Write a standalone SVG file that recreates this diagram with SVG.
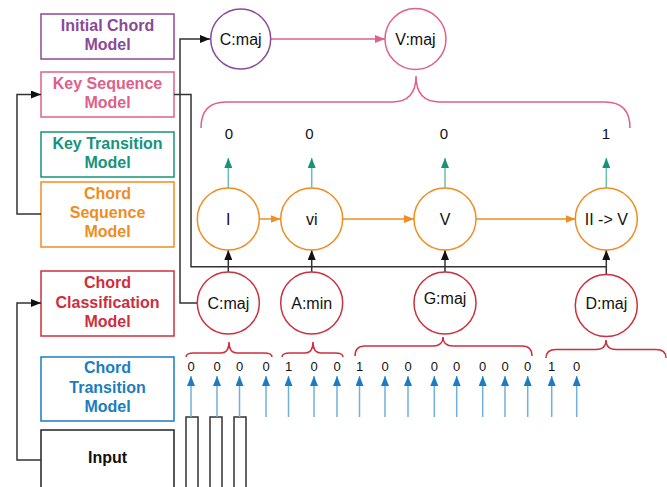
<svg xmlns="http://www.w3.org/2000/svg" width="667" height="487" viewBox="0 0 667 487">
<style>
.box{fill:#fff;stroke-width:1.5}
.lbl{font-family:"Liberation Sans",Arial,sans-serif;font-weight:bold;font-size:16px;text-anchor:middle}
.nd{fill:#fff;stroke-width:1.5}
.nt{font-family:"Liberation Sans",Arial,sans-serif;font-size:16px;text-anchor:middle;fill:#111}
.dg{font-family:"Liberation Sans",Arial,sans-serif;font-size:13px;text-anchor:middle;fill:#111}
.tn{font-family:"Liberation Sans",Arial,sans-serif;font-size:15px;text-anchor:middle;fill:#111}
.k{fill:none;stroke:#333;stroke-width:1.5}
.br{fill:none;stroke-width:1.5}
</style>
<defs>
<marker id="mk" viewBox="0 0 10 8" refX="10" refY="4" markerWidth="10" markerHeight="8" markerUnits="userSpaceOnUse" orient="auto"><path d="M0,0 L10,4 L0,8 z" fill="#111"/></marker>
<marker id="mp" viewBox="0 0 10 8" refX="10" refY="4" markerWidth="10" markerHeight="8" markerUnits="userSpaceOnUse" orient="auto"><path d="M0,0 L10,4 L0,8 z" fill="#E0608A"/></marker>
<marker id="mo" viewBox="0 0 10 8" refX="10" refY="4" markerWidth="10" markerHeight="8" markerUnits="userSpaceOnUse" orient="auto"><path d="M0,0 L10,4 L0,8 z" fill="#EF8D22"/></marker>
<marker id="mt" viewBox="0 0 10 8" refX="10" refY="4" markerWidth="10" markerHeight="8" markerUnits="userSpaceOnUse" orient="auto"><path d="M0,0 L10,4 L0,8 z" fill="#16937A"/></marker>
<marker id="mb" viewBox="0 0 10 8" refX="10" refY="4" markerWidth="10" markerHeight="8" markerUnits="userSpaceOnUse" orient="auto"><path d="M0,0 L10,4 L0,8 z" fill="#1A7DC1"/></marker>
</defs>

<!-- Left model boxes -->
<g id="initial-chord-model">
<rect class="box" x="41" y="14" width="133" height="45" stroke="#8A4A98"/>
<text class="lbl" fill="#8A4A98"><tspan x="107.5" y="31">Initial Chord</tspan><tspan x="107.5" y="50">Model</tspan></text>
</g>
<g id="key-sequence-model">
<rect class="box" x="41" y="72" width="133" height="45" stroke="#E0608A"/>
<text class="lbl" fill="#E0608A"><tspan x="107.5" y="88.5">Key Sequence</tspan><tspan x="107.5" y="107.5">Model</tspan></text>
</g>
<g id="key-transition-model">
<rect class="box" x="41" y="132" width="133" height="45" stroke="#16937A"/>
<text class="lbl" fill="#16937A"><tspan x="107.5" y="149">Key Transition</tspan><tspan x="107.5" y="168">Model</tspan></text>
</g>
<g id="chord-sequence-model">
<rect class="box" x="41" y="182" width="133" height="65" stroke="#EF8D22"/>
<text class="lbl" fill="#EF8D22"><tspan x="107.5" y="199">Chord</tspan><tspan x="107.5" y="218">Sequence</tspan><tspan x="107.5" y="237">Model</tspan></text>
</g>
<g id="chord-classification-model">
<rect class="box" x="41" y="271" width="133" height="65" stroke="#CC2F3E"/>
<text class="lbl" fill="#CC2F3E"><tspan x="107.5" y="288">Chord</tspan><tspan x="107.5" y="307.5">Classification</tspan><tspan x="107.5" y="326.5">Model</tspan></text>
</g>
<g id="chord-transition-model">
<rect class="box" x="41" y="357" width="133" height="64" stroke="#1A7DC1"/>
<text class="lbl" fill="#1A7DC1"><tspan x="107.5" y="373">Chord</tspan><tspan x="107.5" y="392.5">Transition</tspan><tspan x="107.5" y="411.5">Model</tspan></text>
</g>
<g id="input">
<rect class="box" x="41" y="430" width="133" height="70" stroke="#222"/>
<text class="lbl" fill="#111" x="107.5" y="463">Input</text>
</g>

<!-- Input bars -->
<g id="input-bars">
<rect x="186" y="417" width="12" height="80" fill="#fff" stroke="#333" stroke-width="1.5"/>
<rect x="210" y="417" width="12" height="80" fill="#fff" stroke="#333" stroke-width="1.5"/>
<rect x="234" y="417" width="12" height="80" fill="#fff" stroke="#333" stroke-width="1.5"/>
</g>

<!-- Connectors -->
<g id="connectors">
<path class="k" d="M41,214 H17 V94.5 H41" marker-end="url(#mk)"/>
<path class="k" d="M41,460 H17 V303 H41" marker-end="url(#mk)"/>
<path class="k" d="M174,94.5 H191 V266.7 H606"/>
<path class="k" d="M197,303 H180 V39 H210" marker-end="url(#mk)"/>
<path d="M271,39 H385" stroke="#E0608A" stroke-width="1.5" fill="none" marker-end="url(#mp)"/>
<path d="M259.5,219 H280.5" stroke="#EF8D22" stroke-width="1.5" fill="none" marker-end="url(#mo)"/>
<path d="M343,219 H414" stroke="#EF8D22" stroke-width="1.5" fill="none" marker-end="url(#mo)"/>
<path d="M476,219 H575.5" stroke="#EF8D22" stroke-width="1.5" fill="none" marker-end="url(#mo)"/>
<g stroke="#6CC0AB" stroke-width="1.5" fill="none">
<path d="M228.3,188 V158" marker-end="url(#mt)"/>
<path d="M311.7,188 V158" marker-end="url(#mt)"/>
<path d="M445,188 V158" marker-end="url(#mt)"/>
<path d="M606.3,188 V158" marker-end="url(#mt)"/>
</g>
<g class="k">
<path d="M228.3,272 V250" marker-end="url(#mk)"/>
<path d="M311.7,272 V250" marker-end="url(#mk)"/>
<path d="M445,272 V250" marker-end="url(#mk)"/>
<path d="M606.3,274.5 V250" marker-end="url(#mk)"/>
</g>
<g stroke="#6FB1DC" stroke-width="1.5" fill="none">
<path d="M191,417 V376" marker-end="url(#mb)"/>
<path d="M217,417 V376" marker-end="url(#mb)"/>
<path d="M239.5,417 V376" marker-end="url(#mb)"/>
<path d="M266,417 V376" marker-end="url(#mb)"/>
<path d="M288.5,417 V376" marker-end="url(#mb)"/>
<path d="M314,417 V376" marker-end="url(#mb)"/>
<path d="M337,417 V376" marker-end="url(#mb)"/>
<path d="M359.5,417 V376" marker-end="url(#mb)"/>
<path d="M385,417 V376" marker-end="url(#mb)"/>
<path d="M408,417 V376" marker-end="url(#mb)"/>
<path d="M434.3,417 V376" marker-end="url(#mb)"/>
<path d="M456.7,417 V376" marker-end="url(#mb)"/>
<path d="M482.7,417 V376" marker-end="url(#mb)"/>
<path d="M505,417 V376" marker-end="url(#mb)"/>
<path d="M527.7,417 V376" marker-end="url(#mb)"/>
<path d="M551.7,417 V376" marker-end="url(#mb)"/>
<path d="M576.7,417 V376" marker-end="url(#mb)"/>
</g>
<!-- braces -->
<path class="br" stroke="#E0608A" d="M201,128 Q201,102 226,102 H392 Q416,102 416,76 Q416,102 440,102 H605 Q630,102 630,128"/>
<g class="br" stroke="#CC2F3E">
<path d="M186,357 Q186,353 194,353 H221 Q229,353 229,342 Q229,353 237,353 H264 Q272,353 272,357"/>
<path d="M282,357 Q282,353 290,353 H305 Q313,353 313,342 Q313,353 321,353 H335 Q343,353 343,357"/>
<path d="M355,356 Q355,346 365,346 H433 Q443,346 443,337 Q443,346 453,346 H522 Q532,346 532,356"/>
<path d="M546,358 Q546,349.5 556,349.5 H596 Q606,349.5 606,340 Q606,349.5 616,349.5 H656 Q666,349.5 666,358"/>
</g>
</g>

<!-- Key nodes -->
<g id="key-cmaj"><circle class="nd" cx="240.7" cy="39" r="30" stroke="#8A4A98"/><text class="nt" x="240.7" y="44.5">C:maj</text></g>
<g id="key-vmaj"><circle class="nd" cx="415.5" cy="39" r="30.5" stroke="#E0608A"/><text class="nt" x="415.5" y="44.5">V:maj</text></g>

<!-- transition numbers -->
<g id="key-transitions">
<text class="tn" x="229" y="138.5">0</text>
<text class="tn" x="309.5" y="138.5">0</text>
<text class="tn" x="444" y="138.5">0</text>
<text class="tn" x="606" y="138.5">1</text>
</g>

<!-- Roman numeral nodes -->
<g id="rn-I"><circle class="nd" cx="228.3" cy="219" r="31" stroke="#EF8D22"/><text class="nt" x="228.3" y="224.5">I</text></g>
<g id="rn-vi"><circle class="nd" cx="311.7" cy="219" r="31" stroke="#EF8D22"/><text class="nt" x="311.7" y="224.5">vi</text></g>
<g id="rn-V"><circle class="nd" cx="445" cy="219" r="31" stroke="#EF8D22"/><text class="nt" x="445" y="224.5">V</text></g>
<g id="rn-IIV"><circle class="nd" cx="606.3" cy="219" r="31" stroke="#EF8D22"/><text class="nt" x="606.3" y="224.5">II -&gt; V</text></g>

<!-- Chord nodes -->
<g id="ch-cmaj"><circle class="nd" cx="228.3" cy="303" r="31" stroke="#CC2F3E"/><text class="nt" x="228.3" y="308.5">C:maj</text></g>
<g id="ch-amin"><circle class="nd" cx="311.7" cy="303" r="31" stroke="#CC2F3E"/><text class="nt" x="311.7" y="308.5">A:min</text></g>
<g id="ch-gmaj"><circle class="nd" cx="445" cy="303" r="31" stroke="#CC2F3E"/><text class="nt" x="445" y="304">G:maj</text></g>
<g id="ch-dmaj"><circle class="nd" cx="606.3" cy="305.5" r="31" stroke="#CC2F3E"/><text class="nt" x="606.3" y="309">D:maj</text></g>

<!-- chord transition digits -->
<g id="chord-transitions">
<text class="dg" x="191" y="371">0</text>
<text class="dg" x="217" y="371">0</text>
<text class="dg" x="239.5" y="371">0</text>
<text class="dg" x="266" y="371">0</text>
<text class="dg" x="288.5" y="371">1</text>
<text class="dg" x="314" y="371">0</text>
<text class="dg" x="337" y="371">0</text>
<text class="dg" x="359.5" y="371">1</text>
<text class="dg" x="385" y="371">0</text>
<text class="dg" x="408" y="371">0</text>
<text class="dg" x="434.3" y="371">0</text>
<text class="dg" x="456.7" y="371">0</text>
<text class="dg" x="482.7" y="371">0</text>
<text class="dg" x="505" y="371">0</text>
<text class="dg" x="527.7" y="371">0</text>
<text class="dg" x="551.7" y="371">1</text>
<text class="dg" x="576.7" y="371">0</text>
</g>
</svg>
